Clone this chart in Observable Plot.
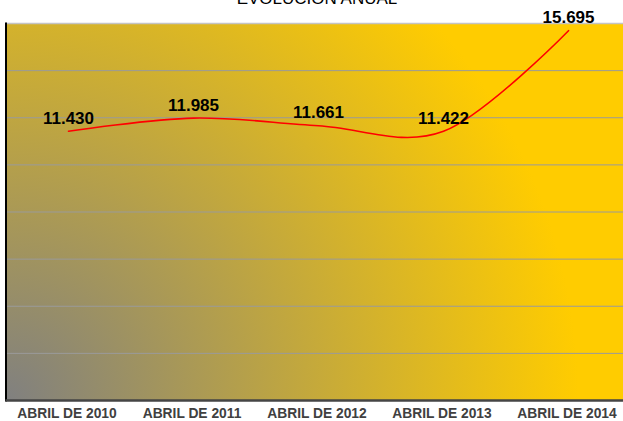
<!DOCTYPE html>
<html>
<head>
<meta charset="utf-8">
<script src="https://cdn.jsdelivr.net/npm/d3@7"></script>
<script src="https://cdn.jsdelivr.net/npm/@observablehq/plot@0.6"></script>
<style>
  html, body { margin: 0; padding: 0; overflow: hidden; background: #fff; }
  #wrap { position: relative; width: 623px; height: 421px; }
  #title { position: absolute; left: 0; width: 634px; top: -10px; text-align: center;
           font: 17px "Liberation Sans", Arial, sans-serif; line-height: 17px; color: #000; z-index: 2; }
</style>
</head>
<body>
<div id="wrap">
  <div id="title">EVOLUCIÓN ANUAL</div>
  <div id="chart"></div>
</div>
<script>
const categories = ["ABRIL DE 2010", "ABRIL DE 2011", "ABRIL DE 2012", "ABRIL DE 2013", "ABRIL DE 2014"];
const values = [11430, 11985, 11661, 11422, 15695];
const yTicks = [0, 2000, 4000, 6000, 8000, 10000, 12000, 14000];

const data = categories.map((c, i) => ({cat: c, value: values[i]}));
const fmt = d3.formatLocale({decimal: ",", thousands: ".", grouping: [3], currency: ["", ""]}).format(",");

const bgDefs = (index, scales, values, dims) => {
  const cx = dims.marginLeft;
  const cy = dims.height - dims.marginBottom;
  const defs = d3.create("svg:defs");
  const g = defs.append("radialGradient")
    .attr("id", "bg")
    .attr("gradientUnits", "userSpaceOnUse")
    .attr("cx", cx).attr("cy", cy).attr("r", 590);
  g.append("stop").attr("offset", "0").attr("stop-color", "#808080");
  g.append("stop").attr("offset", "0.97").attr("stop-color", "#FFCC00");
  g.append("stop").attr("offset", "1").attr("stop-color", "#FFCC00");
  return defs.node();
};

const chart = Plot.plot({
  width: 623,
  height: 421,
  marginLeft: 5.5,
  marginRight: -7.5,
  marginTop: 23,
  marginBottom: 21,
  style: {fontFamily: "'Liberation Sans', Arial, sans-serif", background: "transparent", overflow: "hidden"},
  x: {type: "point", domain: categories, padding: 0.5, axis: null},
  y: {domain: [0, 16000], axis: null},
  marks: [
    bgDefs,
    Plot.frame({fill: "url(#bg)", stroke: null}),
    Plot.ruleY(yTicks.slice(1), {stroke: "#9a9a9a", strokeWidth: 1}),
    Plot.ruleY([16000], {stroke: "#c4c4c4", strokeWidth: 1.5}),
    Plot.frame({anchor: "left", stroke: "#000", strokeWidth: 2}),
    Plot.ruleY([0], {stroke: "#454545", strokeWidth: 2.5}),
    Plot.line(data, {x: "cat", y: "value", stroke: "#FF0000", strokeWidth: 1.6, curve: "cardinal", tension: 0}),
    Plot.text(data, {x: "cat", y: "value", text: d => fmt(d.value), dy: -13, fontSize: 17, fontWeight: "bold", fill: "#000"}),
    Plot.axisX({tickSize: 0, tickPadding: 8, fontSize: 13.8, fontWeight: "bold", color: "#404040", dx: -1.5, label: null})
  ]
});
document.getElementById("chart").appendChild(chart);
</script>
</body>
</html>
